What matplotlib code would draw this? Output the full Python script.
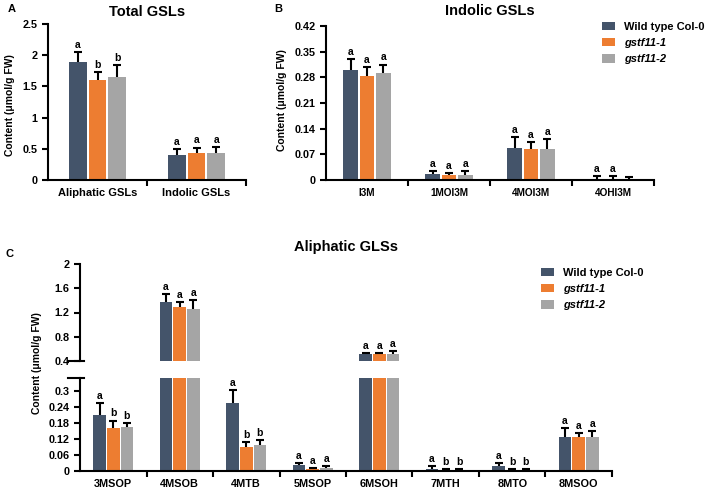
import numpy as np
import matplotlib
matplotlib.use('Agg')
import matplotlib.pyplot as plt
from matplotlib.patches import Patch

plt.rcParams['font.family'] = ['Liberation Sans', 'DejaVu Sans']
plt.rcParams['font.weight'] = 'bold'

#colours and legend labels
colors = ['#44546A', '#ED7D31', '#A5A5A5']
lines = ['Wild type Col-0', 'gstf11-1', 'gstf11-2']

#Panel A : total GSLs
catA = ['Aliphatic GSLs', 'Indolic GSLs']
valA = [[1.89, 0.40], [1.60, 0.44], [1.65, 0.44]]
errA = [[0.16, 0.10], [0.13, 0.08], [0.19, 0.09]]
letA = [['a', 'a'], ['b', 'a'], ['b', 'a']]

#Panel B : indolic GSLs
catB = ['I3M', '1MOI3M', '4MOI3M', '4OHI3M']
valB = [[0.300, 0.016, 0.088, 0.003], [0.283, 0.013, 0.084, 0.004], [0.292, 0.013, 0.084, 0.003]]
errB = [[0.030, 0.009, 0.030, 0.008], [0.026, 0.007, 0.019, 0.006], [0.023, 0.011, 0.027, 0.004]]
letB = [['a', 'a', 'a', 'a'], ['a', 'a', 'a', 'a'], ['a', 'a', 'a', '']]

#Panel C : aliphatic GSLs (broken axis)
catC = ['3MSOP', '4MSOB', '4MTB', '5MSOP', '6MSOH', '7MTH', '8MTO', '8MSOO']
valC = [[0.209, 1.38, 0.255, 0.022, 0.51, 0.008, 0.020, 0.129],
        [0.160, 1.285, 0.091, 0.008, 0.51, 0.004, 0.005, 0.129],
        [0.167, 1.25, 0.099, 0.010, 0.51, 0.004, 0.005, 0.129]]
errC = [[0.046, 0.12, 0.049, 0.008, 0.02, 0.010, 0.010, 0.031],
        [0.030, 0.085, 0.019, 0.004, 0.02, 0.003, 0.003, 0.015],
        [0.015, 0.15, 0.019, 0.008, 0.05, 0.003, 0.004, 0.023]]
letC = [['a', 'a', 'a', 'a', 'a', 'a', 'a', 'a'],
        ['b', 'a', 'b', 'a', 'a', 'b', 'b', 'a'],
        ['b', 'a', 'b', 'a', 'a', 'b', 'b', 'a']]

W = 708
H = 496
fig = plt.figure(figsize=(W/100, H/100), dpi=100)

def box(x0, y0, x1, y1):
    #pixel box (top-left origin) -> figure fraction
    return [x0/W, 1-y1/H, (x1-x0)/W, (y1-y0)/H]

def style(ax, fs=7.8):
    for s in ['top', 'right']:
        ax.spines[s].set_visible(False)
    for s in ['left', 'bottom']:
        ax.spines[s].set_linewidth(1.5)
    ax.tick_params(axis='y', direction='out', length=4, width=1.5, labelsize=fs)

def xcats(ax, cats, fs=7.8):
    n = len(cats)
    ax.set_xlim(-0.5, n-0.5)
    ax.set_xticks(range(n))
    ax.set_xticklabels(cats, fontsize=fs, fontweight='bold')
    ax.tick_params(axis='x', which='major', length=0, pad=6)
    ax.set_xticks(np.arange(0.5, n, 1.0), minor=True)
    ax.tick_params(axis='x', which='minor', direction='out', length=4, width=1.5)

def bars(ax, vals, errs, lets, off=0.2, w=0.18, lo=None, hi=None):
    n = len(vals[0])
    x = np.arange(n)
    for i in range(3):
        xs = x + (i-1)*off
        ax.bar(xs, vals[i], width=w, color=colors[i], zorder=2)
        eb = ax.errorbar(xs, vals[i], yerr=[np.zeros(n), errs[i]], fmt='none', ecolor='black',
                         elinewidth=1.5, capsize=3, capthick=1.5, zorder=3)
        eb[1][0].set_visible(False)   #no cap on the bar top
        for j in range(n):
            top = vals[i][j] + errs[i][j]
            if lo is not None and (top < lo or top > hi):
                continue
            if lets[i][j]:
                ax.annotate(lets[i][j], (xs[j], top), textcoords='offset points', xytext=(0, 1.5),
                            ha='center', va='bottom', fontsize=7.5, fontweight='bold')

#Panel A
axA = fig.add_axes(box(48, 24, 246, 180))
bars(axA, valA, errA, letA)
axA.set_ylim(0, 2.5)
axA.set_yticks([0, 0.5, 1, 1.5, 2, 2.5])
axA.yaxis.set_major_formatter('{x:g}')
style(axA)
xcats(axA, catA, fs=8)
axA.set_title('Total GSLs', fontsize=10.5, fontweight='bold', pad=6)

#Panel B
axB = fig.add_axes(box(326, 26, 654, 180))
bars(axB, valB, errB, letB)
axB.set_ylim(0, 0.42)
axB.set_yticks(np.arange(0, 0.43, 0.07))
axB.set_yticklabels(['0', '0.07', '0.14', '0.21', '0.28', '0.35', '0.42'])
style(axB)
xcats(axB, catB, fs=7.2)
axB.set_title('Indolic GSLs', fontsize=10.5, fontweight='bold', pad=8)

#Panel C upper part
axCu = fig.add_axes(box(80, 264, 612, 361))
bars(axCu, valC, errC, letC, off=0.205, w=0.19, lo=0.4, hi=2.0)
axCu.set_ylim(0.4, 2.0)
axCu.set_xlim(-0.5, len(catC)-0.5)
axCu.set_yticks([0.4, 0.8, 1.2, 1.6, 2])
axCu.yaxis.set_major_formatter('{x:g}')
style(axCu)
axCu.spines['bottom'].set_visible(False)
axCu.set_xticks([])
axCu.plot([-0.022, 0.008], [0, 0], transform=axCu.transAxes, color='black', lw=1.5, clip_on=False)

#Panel C lower part
axCl = fig.add_axes(box(80, 378, 612, 471))
bars(axCl, valC, errC, letC, off=0.205, w=0.19, lo=0, hi=0.35)
axCl.set_ylim(0, 0.35)
axCl.set_yticks([0, 0.06, 0.12, 0.18, 0.24, 0.3])
axCl.set_yticklabels(['0', '0.06', '0.12', '0.18', '0.24', '0.3'])
style(axCl)
xcats(axCl, catC)
axCl.plot([-0.022, 0.008], [1, 1], transform=axCl.transAxes, color='black', lw=1.5, clip_on=False)
fig.text(346/W, 1-247/H, 'Aliphatic GLSs', ha='center', va='center', fontsize=10.5, fontweight='bold')

#y labels
ylab = 'Content (\u03bcmol/g FW)'
fig.text(10/W, 1-105/H, ylab, rotation=90, ha='center', va='center', fontsize=7.5, fontweight='bold')
fig.text(282/W, 1-100/H, ylab, rotation=90, ha='center', va='center', fontsize=7.5, fontweight='bold')
fig.text(37/W, 1-363/H, ylab, rotation=90, ha='center', va='center', fontsize=7.5, fontweight='bold')

#panel letters
fig.text(8/W, 1-9/H, 'A', ha='left', va='center', fontsize=8, fontweight='bold')
fig.text(274/W, 1-9/H, 'B', ha='left', va='center', fontsize=8, fontweight='bold')
fig.text(6/W, 1-254/H, 'C', ha='left', va='center', fontsize=8, fontweight='bold')

#legends
handles = [Patch(facecolor=c, edgecolor='none') for c in colors]
for (lx, ly) in [(596, 16), (535, 262)]:
    leg = fig.legend(handles, lines, loc='upper left', bbox_to_anchor=(lx/W, 1-ly/H),
                     frameon=False, fontsize=8, borderpad=0, handlelength=1.2, handleheight=0.8,
                     handletextpad=0.8, labelspacing=0.55)
    for k, t in enumerate(leg.get_texts()):
        t.set_fontweight('bold')
        if k > 0:
            t.set_style('italic')

plt.savefig('out.png', dpi=100)
